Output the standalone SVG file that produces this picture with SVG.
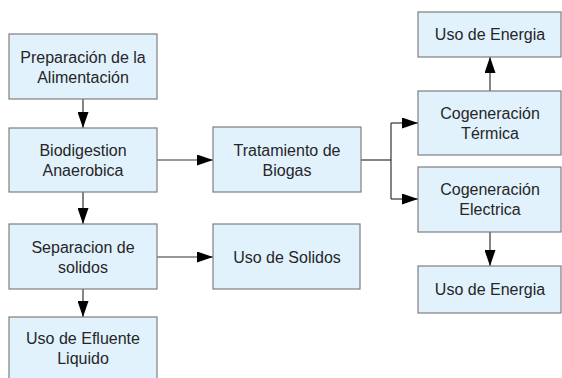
<svg xmlns="http://www.w3.org/2000/svg" width="562" height="378" viewBox="0 0 562 378">
<style>
.box{fill:#e1f2fd;stroke:#7f7f7f;stroke-width:1.2}
.t{font-family:"Liberation Sans",Arial,sans-serif;font-size:16px;fill:#262626;text-anchor:middle}
.c{fill:none;stroke:#333;stroke-width:1.2}
</style>
<defs>
<marker id="ah" markerUnits="userSpaceOnUse" markerWidth="16" markerHeight="11" refX="16" refY="5.5" orient="auto">
<path d="M0,0 L16,5.5 L0,11 z" fill="#000"/>
</marker>
</defs>
<rect width="562" height="378" fill="#fff"/>
<g id="connectors">
<path class="c" d="M83,99 V128" marker-end="url(#ah)"/>
<path class="c" d="M83,192 V224" marker-end="url(#ah)"/>
<path class="c" d="M83,289 V317" marker-end="url(#ah)"/>
<path class="c" d="M157,160 H213" marker-end="url(#ah)"/>
<path class="c" d="M157,257 H213" marker-end="url(#ah)"/>
<path class="c" d="M361,160 H391"/>
<path class="c" d="M391,123 V199"/>
<path class="c" d="M391,123 H418" marker-end="url(#ah)"/>
<path class="c" d="M391,199 H418" marker-end="url(#ah)"/>
<path class="c" d="M490,91 V57" marker-end="url(#ah)"/>
<path class="c" d="M490,232 V266" marker-end="url(#ah)"/>
</g>
<g id="preparacion">
<rect class="box" x="9" y="34" width="148" height="65"/>
<text class="t" x="83" y="63">Preparación de la</text>
<text class="t" x="83" y="83">Alimentación</text>
</g>
<g id="biodigestion">
<rect class="box" x="9" y="128" width="148" height="64"/>
<text class="t" x="83" y="156">Biodigestion</text>
<text class="t" x="83" y="176">Anaerobica</text>
</g>
<g id="separacion">
<rect class="box" x="9" y="224" width="148" height="65"/>
<text class="t" x="83" y="253">Separacion de</text>
<text class="t" x="83" y="273">solidos</text>
</g>
<g id="efluente">
<rect class="box" x="9" y="317" width="148" height="66"/>
<text class="t" x="83" y="344">Uso de Efluente</text>
<text class="t" x="83" y="364">Liquido</text>
</g>
<g id="solidos">
<rect class="box" x="213" y="224" width="147" height="65"/>
<text class="t" x="287" y="263">Uso de Solidos</text>
</g>
<g id="tratamiento">
<rect class="box" x="213" y="127" width="148" height="65"/>
<text class="t" x="287" y="156">Tratamiento de</text>
<text class="t" x="287" y="176">Biogas</text>
</g>
<g id="energia1">
<rect class="box" x="418" y="12" width="143" height="45"/>
<text class="t" x="490" y="40">Uso de Energia</text>
</g>
<g id="termica">
<rect class="box" x="418" y="91" width="143" height="64"/>
<text class="t" x="490" y="119">Cogeneración</text>
<text class="t" x="490" y="139">Térmica</text>
</g>
<g id="electrica">
<rect class="box" x="418" y="167" width="143" height="65"/>
<text class="t" x="490" y="195">Cogeneración</text>
<text class="t" x="490" y="215">Electrica</text>
</g>
<g id="energia2">
<rect class="box" x="418" y="266" width="143" height="47"/>
<text class="t" x="490" y="295">Uso de Energia</text>
</g>
</svg>
